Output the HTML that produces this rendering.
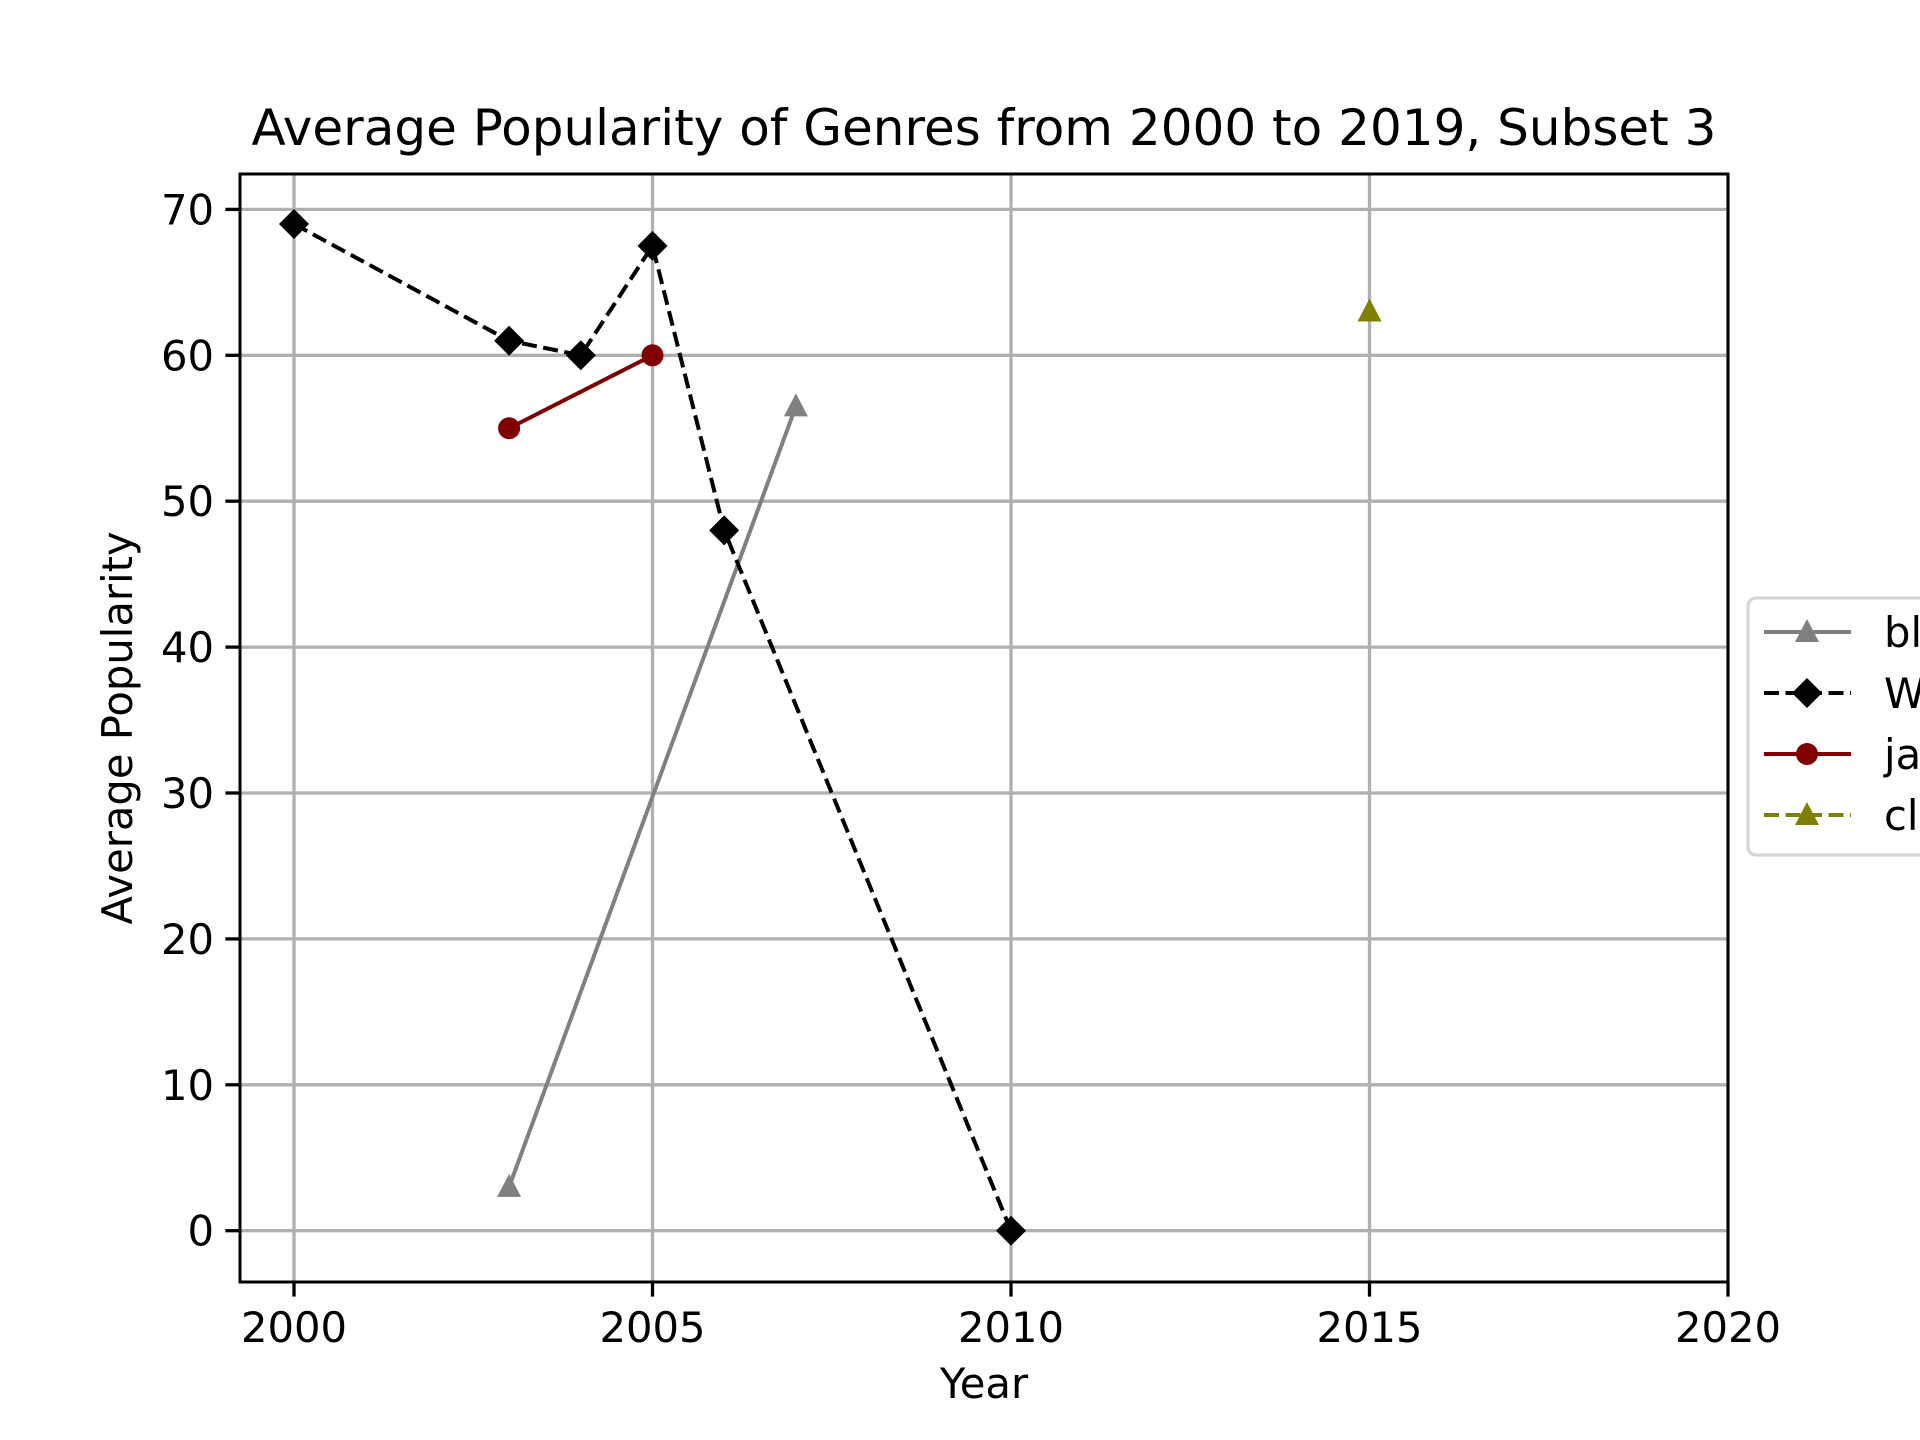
<!DOCTYPE html>
<html><head><meta charset="utf-8"><style>body{margin:0;background:#fff}svg{display:block;font-family:"DejaVu Sans","Liberation Sans",sans-serif}</style></head>
<body>
<svg id="chart" width="1920" height="1440" viewBox="0 0 1920 1440"></svg>
<script>
const years=[2000,2005,2010,2015,2020];
const yticks=[0,10,20,30,40,50,60,70];
const bluesX=[2003,2007], bluesY=[3,56.5];
const worldX=[2000,2003,2004,2005,2006,2010], worldY=[69,61,60,67.5,48,0];
const jazzX=[2003,2005], jazzY=[55,60];
const classX=[2015], classY=[63];
const names=["blues","World","jazz","classical"];
const L=240,R=1728,T=174,B=1282;
const sx=v=>294+(v-2000)*(1728-294)/20;
const sy=v=>1230.7-v*(1230.7-209.4)/70;
const svg=document.getElementById('chart');
const NS='http://www.w3.org/2000/svg';
function mk(t,a,p){const e=document.createElementNS(NS,t);for(const k in a)e.setAttribute(k,a[k]);(p||svg).appendChild(e);return e;}
years.forEach(y=>{const l=mk('line',{x1:sx(y),x2:sx(y),y1:T,y2:B,stroke:'#b0b0b0','stroke-width':3.3});

const tk=mk('line',{x1:sx(y),x2:sx(y),y1:B,y2:B+14.6,stroke:'#000','stroke-width':3.3});

const t=mk('text',{x:sx(y),y:B+60,'text-anchor':'middle','font-size':41.7});t.textContent=y;
});
yticks.forEach(v=>{const l=mk('line',{x1:L,x2:R,y1:sy(v),y2:sy(v),stroke:'#b0b0b0','stroke-width':3.3});

const tk=mk('line',{x1:L-14.6,x2:L,y1:sy(v),y2:sy(v),stroke:'#000','stroke-width':3.3});

const t=mk('text',{x:L-26,y:sy(v)+15,'text-anchor':'end','font-size':41.7});t.textContent=v;
});
function marker(type,x,y,c,g){let e;
 if(type==='tri')e=mk('polygon',{points:`${x},${y-13} ${x+12},${y+10} ${x-12},${y+10}`,fill:c},g);
 else if(type==='dia')e=mk('polygon',{points:`${x},${y-15} ${x+15},${y} ${x},${y+15} ${x-15},${y}`,fill:c},g);
 else e=mk('circle',{cx:x,cy:y,r:11,fill:c},g);
 }
function series(X,Y,c,dash,type,name){const g=mk('g',{});
 
 const p=mk('polyline',{points:X.map((x,i)=>sx(x)+','+sy(Y[i])).join(' '),fill:'none',stroke:c,'stroke-width':4,'stroke-dasharray':dash?'15 6.5':'none'},g);
 
 X.forEach((x,i)=>marker(type,sx(x),sy(Y[i]),c,g));}
series(bluesX,bluesY,'#808080',false,'tri','blues');
series(worldX,worldY,'#000000',true,'dia','world');
series(jazzX,jazzY,'#800000',false,'dot','jazz');
series(classX,classY,'#808000',true,'tri','classical');
const fr=mk('rect',{x:L,y:T,width:R-L,height:B-T,fill:'none',stroke:'#000','stroke-width':3});

const ti=mk('text',{x:984,y:145,'text-anchor':'middle','font-size':50});ti.textContent='Average Popularity of Genres from 2000 to 2019, Subset 3';

const xl=mk('text',{x:984,y:1398,'text-anchor':'middle','font-size':41.7});xl.textContent='Year';

const yl=mk('text',{x:132,y:728,'text-anchor':'middle','font-size':41.7,transform:'rotate(-90 132 728)'});yl.textContent='Average Popularity';

const lg=mk('g',{});
mk('rect',{x:1748,y:598,width:200,height:257,rx:8,fill:'#fff',stroke:'#d6d6d6','stroke-width':3.3},lg);
const cols=['#808080','#000000','#800000','#808000'],dashes=[false,true,false,true],types=['tri','dia','dot','tri'];
names.forEach((n,i)=>{const y=632+i*61;const e=mk('g',{},lg);
 
 mk('line',{x1:1764,x2:1851,y1:y,y2:y,stroke:cols[i],'stroke-width':4,'stroke-dasharray':dashes[i]?'15 6.5':'none'},e);
 marker(types[i],1807,y,cols[i],e);
 const t=mk('text',{x:1884,y:y+15,'font-size':41.7},e);t.textContent=n;});
</script>
</body></html>
